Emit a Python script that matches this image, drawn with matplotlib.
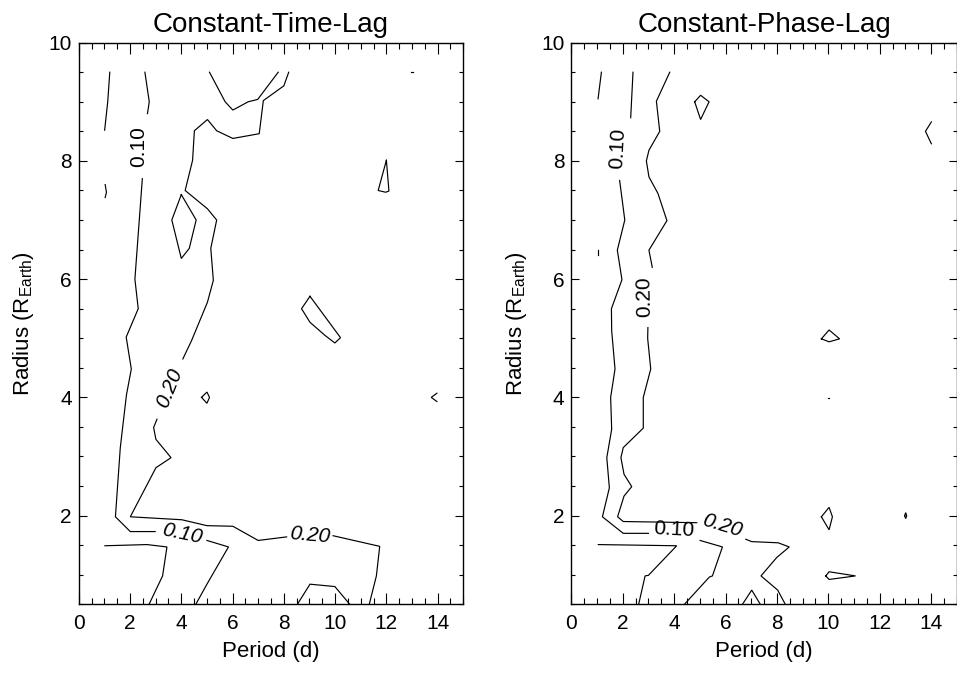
import numpy as np
import matplotlib.pyplot as plt
from matplotlib.ticker import MultipleLocator

plt.rcParams['font.family'] = ['Liberation Sans', 'DejaVu Sans']
plt.rcParams['mathtext.default'] = 'regular'

nan = np.nan

# ---------------- Constant-Time-Lag: contour paths (period [d], radius [R_Earth])
# NaN marks the break where an inline level label sits
ctl_a_period = [1.21, 1.13, 1.01]
ctl_a_radius = [9.50, 9.00, 8.52]
ctl_b_period = [1.03, 1.08, 1.03]
ctl_b_radius = [7.60, 7.47, 7.38]
ctl_c_period = [2.58, 2.75, 2.68, nan, 2.48, 2.19, 2.32, 1.85, 2.05, 1.86, 1.62, 1.43,
                2.01, 2.98, nan, 5.00, 5.84, 5.00, 4.54]
ctl_c_radius = [9.50, 9.00, 8.80, nan, 7.70, 6.00, 5.50, 5.02, 4.48, 4.04, 3.15, 1.98,
                1.73, 1.73, nan, 1.58, 1.47, 0.84, 0.48]
ctl_d_period = [1.02, 2.66, 3.44, 3.27, 2.72]
ctl_d_radius = [1.49, 1.51, 1.47, 0.98, 0.48]
ctl_e_period = [5.10, 5.71, 6.01, 6.61, 6.98, 7.78]
ctl_e_radius = [9.50, 9.00, 8.86, 9.00, 9.04, 9.50]
ctl_f_period = [8.19, 8.00, 7.20, 7.04, 6.01, 5.38, 5.02, 4.51, 4.44, 4.15, 5.02, 5.38,
                5.15, 5.25, 5.02, 4.40, 4.06, nan, 3.05, 2.92, 3.01, 3.60, 3.01, 2.01,
                4.02, 5.00, 6.01, 7.00, 8.11, nan, 9.92, 11.74, 11.61, 11.32]
ctl_f_radius = [9.50, 9.27, 9.02, 8.46, 8.38, 8.51, 8.70, 8.51, 8.01, 7.50, 7.19, 7.00,
                6.52, 5.98, 5.61, 4.96, 4.65, nan, 3.63, 3.49, 3.29, 2.98, 2.81, 1.98,
                1.93, 1.83, 1.82, 1.58, 1.64, nan, 1.66, 1.48, 0.98, 0.48]
ctl_g_period = [4.00, 4.58, 4.31, 4.00, 3.63, 4.00]
ctl_g_radius = [7.43, 7.00, 6.52, 6.35, 7.00, 7.43]
ctl_h_period = [12.00, 12.10, 11.97, 11.68, 12.00]
ctl_h_radius = [8.01, 7.49, 7.47, 7.50, 8.01]
ctl_i_period = [9.02, 8.69, 9.02, 9.60, 9.99, 10.21, 9.02]
ctl_i_radius = [5.71, 5.50, 5.27, 5.05, 4.92, 5.01, 5.71]
ctl_j_period = [4.79, 5.00, 5.10, 5.00, 4.79]
ctl_j_radius = [4.00, 4.09, 4.00, 3.90, 4.00]
ctl_k_period = [13.97, 13.75, 13.97]
ctl_k_radius = [4.07, 4.00, 3.93]
ctl_l_period = [8.50, 9.02, 9.99, 10.61]
ctl_l_radius = [0.48, 0.84, 0.80, 0.48]
ctl_m_period = [12.95, 13.03]
ctl_m_radius = [9.50, 9.50]

ctl_label_text = ['0.10', '0.20', '0.10', '0.20']
ctl_label_period = [2.34, 3.55, 4.05, 9.00]
ctl_label_radius = [8.25, 4.15, 1.70, 1.66]
ctl_label_angle = [90, 68, -12, -5]
ctl_label_style = ['normal', 'italic', 'italic', 'italic']

# ---------------- Constant-Phase-Lag
cpl_a_period = [1.17, 1.04]
cpl_a_radius = [9.50, 9.05]
cpl_b_period = [1.04, 1.04]
cpl_b_radius = [6.50, 6.40]
cpl_c_period = [2.40, 2.31, nan, 1.88, 2.08, 1.79, 1.97, 1.56, 1.57, 1.70, 1.53, 1.57,
                1.38, 1.48, 1.21, 2.02, 3.00, nan, 5.01, 5.88, 5.49, 5.37, 4.36]
cpl_c_radius = [9.50, 8.73, nan, 7.67, 7.00, 6.49, 5.99, 5.50, 5.13, 4.48, 4.00, 3.46,
                2.98, 2.47, 1.98, 1.70, 1.70, nan, 1.58, 1.47, 0.98, 0.96, 0.48]
cpl_d_period = [1.05, 4.10, 3.00, 2.87, 2.61]
cpl_d_radius = [1.51, 1.49, 0.99, 0.98, 0.48]
cpl_e_period = [3.83, 3.31, 3.44, 3.02, 2.92, 3.02, 3.37, 3.72, 3.02, 3.15, nan, 2.98,
                2.97, 3.09, 2.80, 2.80, 2.02, 1.93, 2.05, 2.35, 2.05, 1.80, 2.02, 4.88,
                nan, 6.79, 7.02, 8.05, 8.48, 7.99, 7.38, 8.03, 8.35]
cpl_e_radius = [9.50, 9.01, 8.50, 8.18, 8.00, 7.73, 7.45, 6.99, 6.49, 6.20, nan, 5.18,
                5.00, 4.48, 4.00, 3.48, 3.15, 2.98, 2.70, 2.49, 2.33, 1.98, 1.90, 1.88,
                nan, 1.60, 1.56, 1.54, 1.47, 1.29, 0.98, 0.74, 0.48]
cpl_f_period = [6.63, 7.02, 7.38]
cpl_f_radius = [0.48, 0.74, 0.48]
cpl_g_period = [4.80, 5.03, 5.36, 5.03, 4.80]
cpl_g_radius = [9.00, 9.11, 9.00, 8.70, 9.00]
cpl_h_period = [14.01, 13.78, 14.01]
cpl_h_radius = [8.66, 8.50, 8.29]
cpl_i_period = [9.73, 10.03, 10.44, 10.03, 9.73]
cpl_i_radius = [4.99, 5.14, 4.99, 4.94, 4.99]
cpl_j_period = [9.99, 10.04]
cpl_j_radius = [3.99, 3.99]
cpl_k_period = [9.73, 10.03, 10.16, 10.03, 9.73]
cpl_k_radius = [1.98, 2.14, 1.98, 1.76, 1.98]
cpl_l_period = [12.97, 13.01, 13.05, 13.01, 12.97]
cpl_l_radius = [2.00, 2.05, 2.00, 1.95, 2.00]
cpl_m_period = [9.90, 10.03, 11.06, 10.03, 9.90]
cpl_m_radius = [0.98, 1.05, 0.98, 0.92, 0.98]

cpl_label_text = ['0.10', '0.20', '0.10', '0.20']
cpl_label_period = [1.82, 2.85, 3.97, 5.85]
cpl_label_radius = [8.21, 5.70, 1.76, 1.83]
cpl_label_angle = [87, 91, -3, -17]
cpl_label_style = ['normal', 'normal', 'normal', 'italic']

ctl_paths = [(ctl_a_period, ctl_a_radius), (ctl_b_period, ctl_b_radius),
             (ctl_c_period, ctl_c_radius), (ctl_d_period, ctl_d_radius),
             (ctl_e_period, ctl_e_radius), (ctl_f_period, ctl_f_radius),
             (ctl_g_period, ctl_g_radius), (ctl_h_period, ctl_h_radius),
             (ctl_i_period, ctl_i_radius), (ctl_j_period, ctl_j_radius),
             (ctl_k_period, ctl_k_radius), (ctl_l_period, ctl_l_radius),
             (ctl_m_period, ctl_m_radius)]
cpl_paths = [(cpl_a_period, cpl_a_radius), (cpl_b_period, cpl_b_radius),
             (cpl_c_period, cpl_c_radius), (cpl_d_period, cpl_d_radius),
             (cpl_e_period, cpl_e_radius), (cpl_f_period, cpl_f_radius),
             (cpl_g_period, cpl_g_radius), (cpl_h_period, cpl_h_radius),
             (cpl_i_period, cpl_i_radius), (cpl_j_period, cpl_j_radius),
             (cpl_k_period, cpl_k_radius), (cpl_l_period, cpl_l_radius),
             (cpl_m_period, cpl_m_radius)]

fig = plt.figure(figsize=(9.57, 6.73), dpi=100)
ax_l = fig.add_axes([0.0823, 0.1021, 0.4018, 0.8345])
ax_r = fig.add_axes([0.5970, 0.1021, 0.4028, 0.8345])

panels = [
    (ax_l, 'Constant-Time-Lag', ctl_paths,
     ctl_label_text, ctl_label_period, ctl_label_radius, ctl_label_angle, ctl_label_style),
    (ax_r, 'Constant-Phase-Lag', cpl_paths,
     cpl_label_text, cpl_label_period, cpl_label_radius, cpl_label_angle, cpl_label_style),
]

for ax, title, paths, ltxt, lp, lr, lang, lsty in panels:
    for px, py in paths:
        ax.plot(px, py, color='black', lw=0.85, solid_joinstyle='miter')
    for t, x, y, a, s in zip(ltxt, lp, lr, lang, lsty):
        ax.text(x, y, t, rotation=a, rotation_mode='anchor', ha='center', va='center',
                fontsize=15, style=s, color='black')

    ax.set_xlim(0, 15)
    ax.set_ylim(0.5, 10)
    ax.xaxis.set_major_locator(MultipleLocator(2))
    ax.xaxis.set_minor_locator(MultipleLocator(0.5))
    ax.yaxis.set_major_locator(MultipleLocator(2))
    ax.yaxis.set_minor_locator(MultipleLocator(0.5))
    ax.tick_params(axis='both', which='both', direction='in', top=True, right=True,
                   width=0.8, labelsize=15, colors='black')
    ax.tick_params(axis='x', which='major', length=8, pad=7)
    ax.tick_params(axis='x', which='minor', length=4)
    ax.tick_params(axis='y', which='major', length=5.5, pad=5)
    ax.tick_params(axis='y', which='minor', length=3)
    for sp in ax.spines.values():
        sp.set_linewidth(1.0)
    ax.set_title(title, fontsize=20, pad=8)
    ax.set_xlabel('Period (d)', fontsize=16, labelpad=6)
    ax.set_ylabel('Radius (R$_{Earth}$)', fontsize=16, labelpad=9)

fig.savefig('out.png', dpi=100)
